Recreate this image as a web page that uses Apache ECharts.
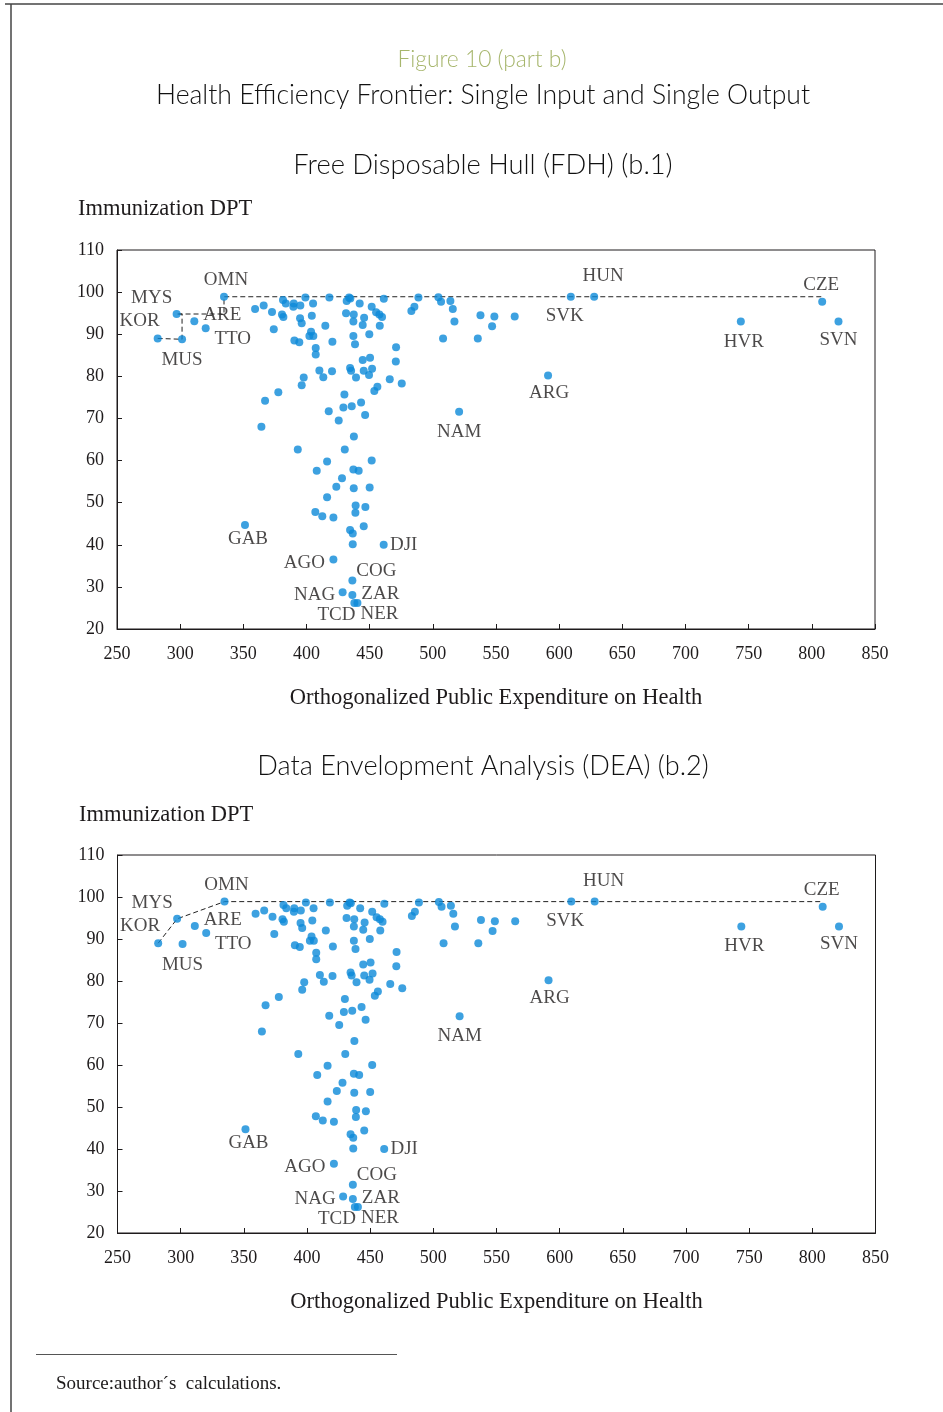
<!DOCTYPE html>
<html>
<head>
<meta charset="utf-8">
<title>Health Efficiency Frontier</title>
<script src="https://cdn.jsdelivr.net/npm/echarts@6/dist/echarts.min.js"></script>
<style>
html, body { margin: 0; padding: 0; background: #fff; }
#main { width: 943px; height: 1412px; }
</style>
</head>
<body>
<div id="main"></div>
<script>
// labelled countries (expenditure, immunization)
var labelNames = ['OMN', 'MYS', 'KOR', 'MUS', 'ARE', 'TTO', 'HUN', 'SVK', 'CZE', 'HVR', 'SVN',
  'ARG', 'NAM', 'GAB', 'DJI', 'AGO', 'COG', 'NAG', 'ZAR', 'TCD', 'NER'];
var labelX = [334.7, 297.2, 282.2, 301.5, 311.2, 320.2, 627.7, 609.2, 808.2, 743.8, 821.1,
  591.2, 520.8, 351.3, 461.1, 421.3, 436.3, 428.6, 436.3, 437.9, 440.3];
var labelY = [98.9, 94.8, 89.0, 88.8, 93.1, 91.4, 98.9, 98.9, 97.7, 93.0, 93.0,
  80.2, 71.6, 44.7, 40.0, 36.5, 31.5, 28.7, 28.1, 26.2, 26.2];

// the other countries, unlabelled
var otherPoints = [
  [359.3, 96.0], [366.1, 96.8], [372.7, 95.3], [374.1, 91.2], [380.6, 94.7], [381.7, 94.1],
  [381.4, 98.1], [383.6, 97.3], [389.9, 97.3], [389.6, 96.5], [395.1, 96.8], [399.1, 98.7],
  [405.2, 97.3], [394.9, 93.8], [396.2, 92.6], [404.2, 94.4], [403.6, 90.6], [402.3, 89.6],
  [405.4, 89.6], [390.4, 88.5], [394.3, 88.1], [407.3, 86.7], [407.3, 85.2], [414.9, 92.0],
  [418.1, 98.7], [420.5, 88.2], [410.2, 81.4], [413.3, 79.8], [420.2, 81.2], [397.8, 79.7],
  [396.2, 77.9], [377.7, 76.2], [367.2, 74.2], [364.3, 68.0], [430.0, 75.7], [429.2, 72.6],
  [435.8, 72.9], [443.2, 73.8], [446.4, 70.8], [417.6, 71.7], [425.5, 69.5], [437.5, 65.7],
  [431.8, 97.9], [433.7, 98.7], [434.7, 98.5], [431.3, 95.0], [437.4, 94.7], [437.1, 93.0],
  [442.1, 97.3], [445.6, 93.9], [444.5, 92.2], [437.1, 89.6], [438.4, 87.6], [449.7, 90.0],
  [451.6, 96.5], [455.1, 95.2], [457.7, 94.7], [459.8, 94.1], [458.0, 92.0], [461.2, 98.4],
  [444.5, 83.9], [450.3, 84.4], [434.5, 82.0], [435.3, 81.3], [439.2, 79.7], [445.3, 81.3],
  [449.5, 80.3], [451.9, 81.8], [456.1, 77.5], [453.7, 76.5], [465.9, 79.3], [470.9, 86.9],
  [470.7, 83.5], [475.4, 78.3], [483.0, 95.5], [485.4, 96.5], [488.6, 98.7],
  [504.4, 98.8], [506.5, 97.7], [513.9, 97.9], [515.8, 96.0], [517.1, 93.0], [508.1, 89.0],
  [537.7, 94.5], [548.7, 94.2], [546.9, 91.9], [564.8, 94.2], [535.6, 89.0],
  [393.1, 62.6], [430.3, 62.6], [416.3, 59.8], [451.6, 60.0], [408.1, 57.6], [437.1, 57.9],
  [441.3, 57.6], [428.1, 55.8], [423.6, 53.8], [437.4, 53.4], [450.0, 53.6], [416.3, 51.3],
  [407.0, 47.8], [412.5, 46.8], [421.3, 46.5], [438.9, 49.3], [438.7, 47.6], [446.6, 49.0],
  [445.3, 44.4], [434.5, 43.5], [436.6, 42.7], [436.6, 40.1]
];

var xMin = 250, xMax = 850, xStep = 50;
var yMin = 20, yMax = 110, yStep = 10;

// where each country code sits relative to its dot (px)
var labelOffset = {
  OMN: [2, -17], MYS: [-25, -16], KOR: [-18, -17], MUS: [0, 21], ARE: [28, -6], TTO: [27, 11],
  HUN: [9, -21], SVK: [-6, 19], CZE: [-1, -17], HVR: [3, 20], SVN: [0, 18], ARG: [1, 18],
  NAM: [0, 20], GAB: [3, 14], DJI: [20, 0], AGO: [-29, 3], COG: [24, -10], NAG: [-28, 3],
  ZAR: [28, -1], TCD: [-18, 12], NER: [22, 11]
};

function pt(n) {
  var i = labelNames.indexOf(n);
  return [labelX[i], labelY[i]];
}

// FDH: staircase, DEA: convex piecewise
var KOR = pt('KOR'), MUS = pt('MUS'), MYS = pt('MYS'), OMN = pt('OMN'), CZE = pt('CZE');
var fdhLine = [KOR, MUS, [MUS[0], MYS[1]], MYS, [OMN[0], MYS[1]], OMN, [CZE[0], OMN[1]]];
var deaLine = [KOR, MYS, OMN, [CZE[0], OMN[1]]];

var serif = 'Liberation Serif';
var sans = 'Lato';
var ink = '#1e1b1c';
var dotColor = '#0c8ad8';

function pointData() {
  var d = otherPoints.map(function (p) { return { value: p }; });
  labelNames.forEach(function (n, i) {
    d.push({
      value: [labelX[i], labelY[i]],
      name: n,
      label: { show: true, formatter: n, offset: labelOffset[n] }
    });
  });
  return d;
}

function xAxisFor(gi) {
  return {
    gridIndex: gi, type: 'value', min: xMin, max: xMax, interval: xStep,
    name: 'Orthogonalized Public Expenditure on Health',
    nameLocation: 'middle', nameGap: 58,
    nameTextStyle: { fontFamily: serif, fontSize: 22.5, color: ink },
    axisLine: { lineStyle: { color: ink, width: 1 } },
    axisTick: { inside: true, length: 5, lineStyle: { color: ink } },
    axisLabel: { fontFamily: serif, fontSize: 18, color: ink, margin: 16 },
    splitLine: { show: false }
  };
}
function yAxisFor(gi) {
  return {
    gridIndex: gi, type: 'value', min: yMin, max: yMax, interval: yStep,
    axisLine: { show: true, lineStyle: { color: ink, width: 1 } },
    axisTick: { show: true, inside: true, length: 5, lineStyle: { color: ink } },
    axisLabel: { fontFamily: serif, fontSize: 18, color: ink, margin: 13 },
    splitLine: { show: false }
  };
}
function frontierSeries(gi, line) {
  return {
    type: 'line', xAxisIndex: gi, yAxisIndex: gi, data: line,
    symbol: 'none', silent: true, z: 1,
    lineStyle: { color: '#222', width: 1, type: [5, 3] }
  };
}
function scatterSeries(gi) {
  return {
    type: 'scatter', xAxisIndex: gi, yAxisIndex: gi, data: pointData(),
    symbolSize: 8, z: 2,
    itemStyle: { color: dotColor },
    label: {
      show: false, position: 'inside', align: 'center', verticalAlign: 'middle',
      fontFamily: serif, fontSize: 19, color: ink
    }
  };
}
function txt(s, x, y, size, font, color, align, weight) {
  return {
    type: 'text', x: x, y: y, silent: true,
    style: {
      text: s, font: (weight || 'normal') + ' ' + size + 'px "' + font + '"', fill: color,
      align: align || 'center', verticalAlign: 'middle',
      textAlign: align || 'center', textVerticalAlign: 'middle'
    }
  };
}

var chart = echarts.init(document.getElementById('main'));
var option = {
  animation: false,
  backgroundColor: '#fff',
  grid: [
    { left: 117, top: 250, width: 758, height: 379, show: true, borderColor: ink, borderWidth: 1 },
    { left: 117.5, top: 855, width: 758, height: 378, show: true, borderColor: ink, borderWidth: 1 }
  ],
  xAxis: [xAxisFor(0), xAxisFor(1)],
  yAxis: [yAxisFor(0), yAxisFor(1)],
  series: [
    frontierSeries(0, fdhLine), scatterSeries(0),
    frontierSeries(1, deaLine), scatterSeries(1)
  ],
  graphic: [
    { type: 'line', silent: true, shape: { x1: 5, y1: 4, x2: 943, y2: 4 }, style: { stroke: '#444', lineWidth: 1.5 } },
    { type: 'line', silent: true, shape: { x1: 11, y1: 4, x2: 11, y2: 1412 }, style: { stroke: '#444', lineWidth: 1.5 } },
    { type: 'line', silent: true, shape: { x1: 36, y1: 1354.5, x2: 397, y2: 1354.5 }, style: { stroke: '#555', lineWidth: 1 } },
    txt('Figure 10 (part b)', 482, 60, 22.8, sans, '#a7b66d', 'center', 300),
    txt('Health Efficiency Frontier: Single Input and Single Output', 483, 95, 26.6, sans, '#111', 'center', 300),
    txt('Free Disposable Hull (FDH) (b.1)', 483, 165, 27.3, sans, '#111', 'center', 300),
    txt('Data Envelopment Analysis (DEA) (b.2)', 483, 766, 27.1, sans, '#111', 'center', 300),
    txt('Immunization DPT', 78, 209, 22.5, serif, ink, 'left'),
    txt('Immunization DPT', 79, 815, 22.5, serif, ink, 'left'),
    txt('Source:author\u00b4s  calculations.', 56, 1384, 19, serif, ink, 'left')
  ]
};
chart.setOption(option);
</script>
</body>
</html>
